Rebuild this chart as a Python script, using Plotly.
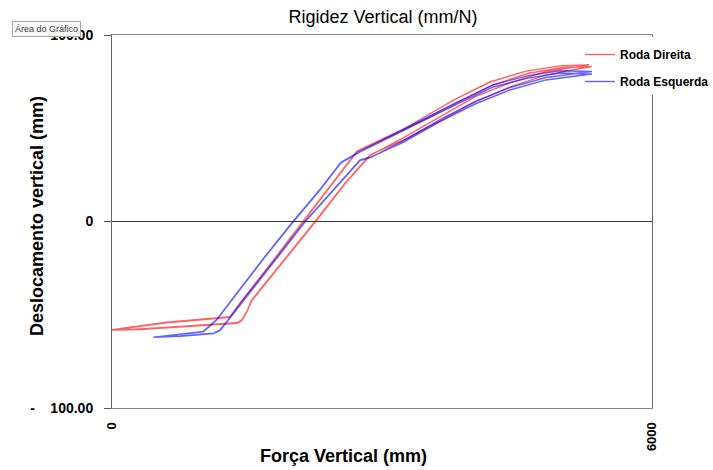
import plotly.graph_objects as go

# Roda Direita: two load/unload cycles (force N, displacement mm)
direita_forca = [
    0, 311, 756, 1386, 1441, 1497, 1552, 1867, 2256, 2589, 2867, 3240, 3633, 4033, 4430, 4827, 5328,
    5022, 4629, 4233, 3833, 3240, 2722, 2422, 2133, 1756, 1422, 1311, 608, 0,
    311, 756, 1386, 1441, 1497, 1552, 1867, 2256, 2589, 2867, 3240, 3633, 4033, 4430, 4827, 5300,
    4990, 4600, 4200, 3800, 3240, 2722, 2422, 2133, 1756, 1422, 1311, 608, 0,
]
direita_desloc = [
    -58.2, -57.6, -56.3, -54.3, -52.8, -48.4, -42.1, -23.3, 0.0, 20.6, 35.7, 43.7, 53.5, 64.2, 72.3, 78.6, 83.1,
    82.7, 79.5, 73.2, 63.5, 49.1, 37.4, 18.5, 0.0, -23.3, -43.9, -51.4, -54.3, -58.2,
    -57.9, -56.6, -54.6, -53.2, -48.8, -42.5, -23.8, -0.4, 20.2, 35.4, 45.0, 55.6, 66.8, 74.6, 80.4, 84.0,
    83.6, 80.6, 74.8, 65.2, 49.6, 37.8, 18.8, 0.3, -23.0, -43.6, -51.1, -54.0, -58.0,
]

# Roda Esquerda: two load/unload cycles
esquerda_forca = [
    459, 756, 1126, 1200, 1348, 1459, 1811, 2144, 2478, 2756, 2878, 3240, 3644, 4033, 4422, 4822, 5333,
    4978, 4622, 4233, 3833, 3422, 2978, 2756, 2544, 2311, 2017, 1700, 1333, 1163, 1014, 756, 459,
    756, 1126, 1200, 1348, 1459, 1811, 2144, 2478, 2756, 2878, 3240, 3644, 4033, 4422, 4822, 5333,
    4978, 4622, 4233, 3833, 3422, 2978, 2756, 2544, 2311, 2017, 1700, 1333, 1163, 1014, 756, 470,
]
esquerda_desloc = [
    -62.1, -61.4, -59.9, -58.2, -49.2, -42.1, -20.6, 0.0, 18.0, 33.0, 34.6, 42.6, 53.5, 63.0, 70.5, 75.9, 79.1,
    79.6, 76.9, 72.1, 63.0, 53.4, 42.6, 37.3, 31.4, 16.9, 0.0, -19.0, -42.1, -52.8, -59.1, -60.6, -62.1,
    -61.6, -60.1, -58.5, -49.5, -42.4, -21.0, -0.3, 17.6, 32.7, 34.4, 43.4, 54.6, 64.3, 71.8, 77.2, 80.4,
    80.8, 78.2, 73.3, 64.0, 54.0, 43.0, 37.6, 31.8, 17.2, 0.4, -18.7, -41.8, -52.6, -58.9, -60.4, -62.0,
]

x_tick_vals = [0, 6000]
x_tick_text = ["0", "6000"]
y_tick_vals = [-100, 0, 100]
y_tick_text = ["-\u00a0\u00a0\u00a0\u00a0100.00", "0", "100.00"]

FONT = "Liberation Sans, Arial, sans-serif"

fig = go.Figure()
fig.add_trace(go.Scatter(
    x=direita_forca, y=direita_desloc, mode="lines", name="Roda Direita",
    line=dict(color="rgba(255,0,0,0.62)", width=1.4), legendgroup="d",
))
fig.add_trace(go.Scatter(
    x=esquerda_forca, y=esquerda_desloc, mode="lines", name="Roda Esquerda",
    line=dict(color="rgba(0,0,255,0.62)", width=1.4), legendgroup="e",
))

fig.update_layout(
    width=713, height=470,
    margin=dict(l=112, r=61, t=35, b=62, autoexpand=False),
    paper_bgcolor="white", plot_bgcolor="white",
    font=dict(family=FONT, color="black"),
    title=dict(text="Rigidez Vertical (mm/N)", x=383 / 713, xanchor="center",
               y=1 - 17 / 470, yanchor="middle", font=dict(size=18, family=FONT)),
    showlegend=True,
    legend=dict(
        x=(580 - 112) / 540, xanchor="left", y=(408 - 40) / 373, yanchor="top",
        bgcolor="rgba(0,0,0,0)", borderwidth=0,
        font=dict(size=12, family=FONT, weight="bold"),
        tracegroupgap=8, traceorder="grouped",
    ),
    xaxis=dict(
        range=[0, 6000], tickmode="array", tickvals=x_tick_vals, ticktext=x_tick_text,
        tickangle=-90, ticks="", ticklabelstandoff=8,
        tickfont=dict(size=13, family=FONT, weight="bold"),
        showgrid=False, zeroline=False,
        showline=True, linecolor="#888888", linewidth=1, mirror=True,
    ),
    yaxis=dict(
        range=[-100, 100], tickmode="array", tickvals=y_tick_vals, ticktext=y_tick_text,
        ticks="outside", ticklen=7, tickcolor="#555555", ticklabelstandoff=8,
        tickfont=dict(size=14, family=FONT, weight="bold"),
        showgrid=False, zeroline=True, zerolinecolor="#333333", zerolinewidth=1,
        showline=True, linecolor="#666666", linewidth=1, mirror=True,
    ),
    shapes=[
        # the legend box hides this stretch of the right frame edge
        dict(type="rect", xref="paper", yref="paper", layer="above",
             x0=(646 - 112) / 540, x1=(658 - 112) / 540,
             y0=(408 - 95) / 373, y1=(408 - 37) / 373,
             fillcolor="white", line=dict(width=0)),
    ],
    annotations=[
        dict(text="<b>Deslocamento vertical (mm)</b>", xref="paper", yref="paper",
             x=(37 - 112) / 540, y=(408 - 216) / 373, xanchor="center", yanchor="middle",
             textangle=-90, showarrow=False, font=dict(size=18, family=FONT)),
        dict(text="<b>Força Vertical (mm)</b>", xref="paper", yref="paper",
             x=(343 - 112) / 540, y=(408 - 456) / 373, xanchor="center", yanchor="middle",
             showarrow=False, font=dict(size=18, family=FONT)),
        dict(text="Área do Gráfico", xref="paper", yref="paper",
             x=(12 - 112) / 540, y=(408 - 29) / 373, xanchor="left", yanchor="middle",
             showarrow=False, font=dict(size=9, family=FONT, color="#444444"),
             bgcolor="#f7f7f7", bordercolor="#aaaaaa", borderwidth=1, borderpad=2),
    ],
)

fig.write_html("out.html")
